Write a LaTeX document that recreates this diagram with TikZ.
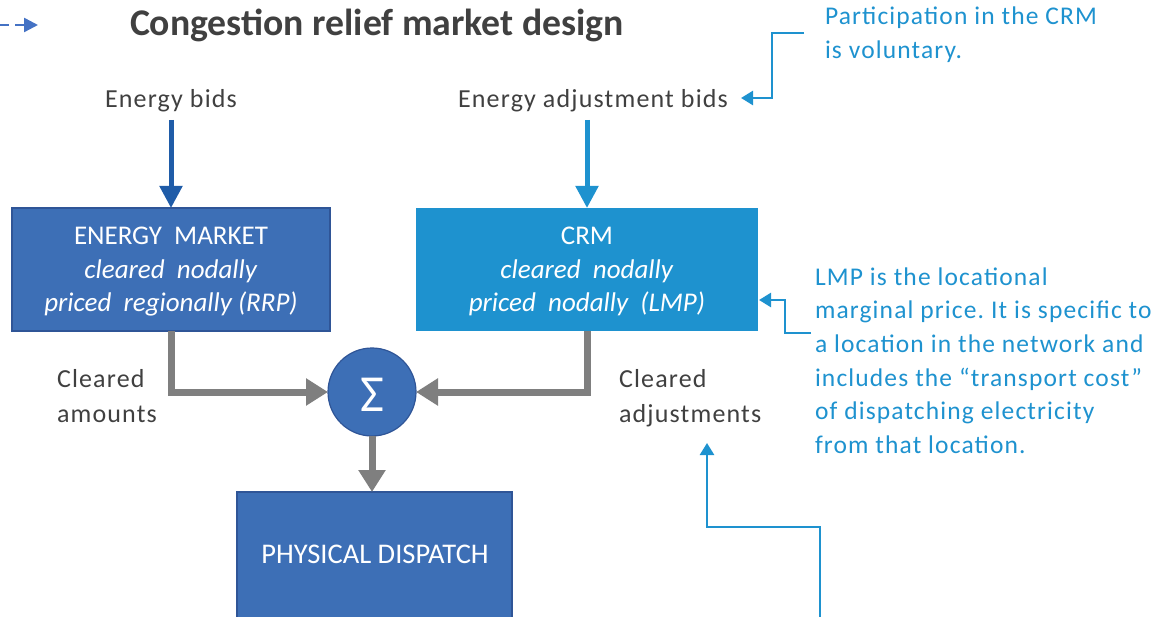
\documentclass[tikz,border=0pt]{standalone}
\usepackage{fontspec}
\setmainfont{Carlito}
\newfontfamily\spaced[LetterSpace=4.5]{Carlito}
\frenchspacing
\usetikzlibrary{arrows.meta,calc}
\definecolor{boxblue}{HTML}{3D6FB6}
\definecolor{boxedge}{HTML}{2F5597}
\definecolor{crmblue}{HTML}{1E92CF}
\definecolor{arrblue}{HTML}{1F5CA8}
\definecolor{dashblue}{HTML}{4472C4}
\definecolor{txtgray}{HTML}{404040}
\definecolor{linegray}{HTML}{7F7F7F}
\definecolor{notecol}{HTML}{1E92CF}
\tikzset{
  x=1pt,y=-1pt,
  every node/.style={inner sep=0pt,outer sep=0pt},
  lbl/.style={text=txtgray,font=\spaced\fontsize{26}{34.5}\selectfont,align=left},
  note/.style={text=notecol,font=\spaced\fontsize{25.5}{33.7}\selectfont,align=left},
  boxtxt/.style={text=white,font=\fontsize{27}{33.5}\selectfont,align=center},
  grayarrow/.style={draw=linegray,line width=7pt,-{Triangle[length=22pt,width=26pt]}},
  inarrow/.style={line width=5pt,-{Triangle[length=22pt,width=22pt]}},
  notearrow/.style={draw=notecol,line width=2.5pt,-{Triangle[length=12pt,width=14pt]}},
}
\begin{document}
\begin{tikzpicture}
\useasboundingbox (0,0) rectangle (1164,617);
% title
\coordinate (dashstart) at (0,25);
\coordinate (dashend) at (38,25);
\draw[dashblue,line width=2.5pt,dash pattern=on 9pt off 6pt,-{Triangle[length=14pt,width=14pt]}] (dashstart) -- (dashend);
\node[anchor=base west,text=txtgray,font=\bfseries\fontsize{37.7}{40}\selectfont] (title) at (130,36) {Congestion relief market design};
% inputs
\node[lbl,anchor=base] (ebids) at (171,108) {Energy bids};
\node[lbl,anchor=base] (abids) at (593,108) {Energy adjustment bids};
% boxes
\node[draw=boxedge,line width=1.2pt,fill=boxblue,minimum width=318pt,minimum height=123pt,anchor=north west] (em) at (12,208) {};
\node[boxtxt,anchor=base] (emtxt) at (171,312) {ENERGY\ \ MARKET\\ \textit{cleared\ \ nodally}\\ \textit{priced\ \ regionally (RRP)}};
\node[fill=crmblue,minimum width=342pt,minimum height=123pt,anchor=north west] (crm) at (416,208) {};
\node[boxtxt,anchor=base] (crmtxt) at (587,312) {CRM\\ \textit{cleared\ \ nodally}\\ \textit{priced\ \ nodally\ \ (LMP)}};
\node[circle,draw=boxedge,line width=1.2pt,fill=boxblue,minimum size=88pt] (sum) at (372,392) {};
\node[text=white,font=\fontsize{52}{52}\selectfont,anchor=base] (sigma) at (372,411) {Σ};
\node[draw=boxedge,line width=1.2pt,fill=boxblue,minimum width=275pt,minimum height=130pt,anchor=north west] (pd) at (237,492) {};
\node[boxtxt,font=\fontsize{28.5}{33.5}\selectfont,anchor=base] (pdtxt) at (375,563) {PHYSICAL DISPATCH};
% arrows in
\coordinate (ein) at (171,120);
\coordinate (ain) at (587,120);
\draw[inarrow,draw=arrblue] (ein) -- (em.north);
\draw[inarrow,draw=crmblue] (ain) -- (crm.north);
% gray arrows
\draw[grayarrow] (em.south) |- (sum.west);
\draw[grayarrow] (crm.south) |- (sum.east);
\draw[grayarrow] (sum.south) -- (pd.north -| sum.south);
% labels
\node[lbl,anchor=base west] (ca) at (57,422) {Cleared\\amounts};
\node[lbl,anchor=base west] (cadj) at (619,422) {Cleared\\adjustments};
% notes
\node[note,font=\spaced\fontsize{25.5}{33.5}\selectfont,anchor=base west] (part) at (825,58.5) {Participation in the CRM\\is voluntary.};
\node[note,anchor=base west] (lmp) at (815,453.5) {LMP is the locational\\marginal price. It is specific to\\a location in the network and\\includes the “transport cost”\\of dispatching electricity\\from that location.};
\coordinate (p1) at (804,33);
\coordinate (t1) at (741,98);
\draw[notearrow] (p1) -- (772,33) |- (t1);
\coordinate (p2) at (811,333);
\coordinate (t2) at (759,300);
\draw[notearrow] (p2) -- (785,333) |- (t2);
\coordinate (p3) at (820,617);
\coordinate (p4) at (707,443);
\draw[notearrow] (p3) -- (820,527) -| (p4);
\end{tikzpicture}
\end{document}
